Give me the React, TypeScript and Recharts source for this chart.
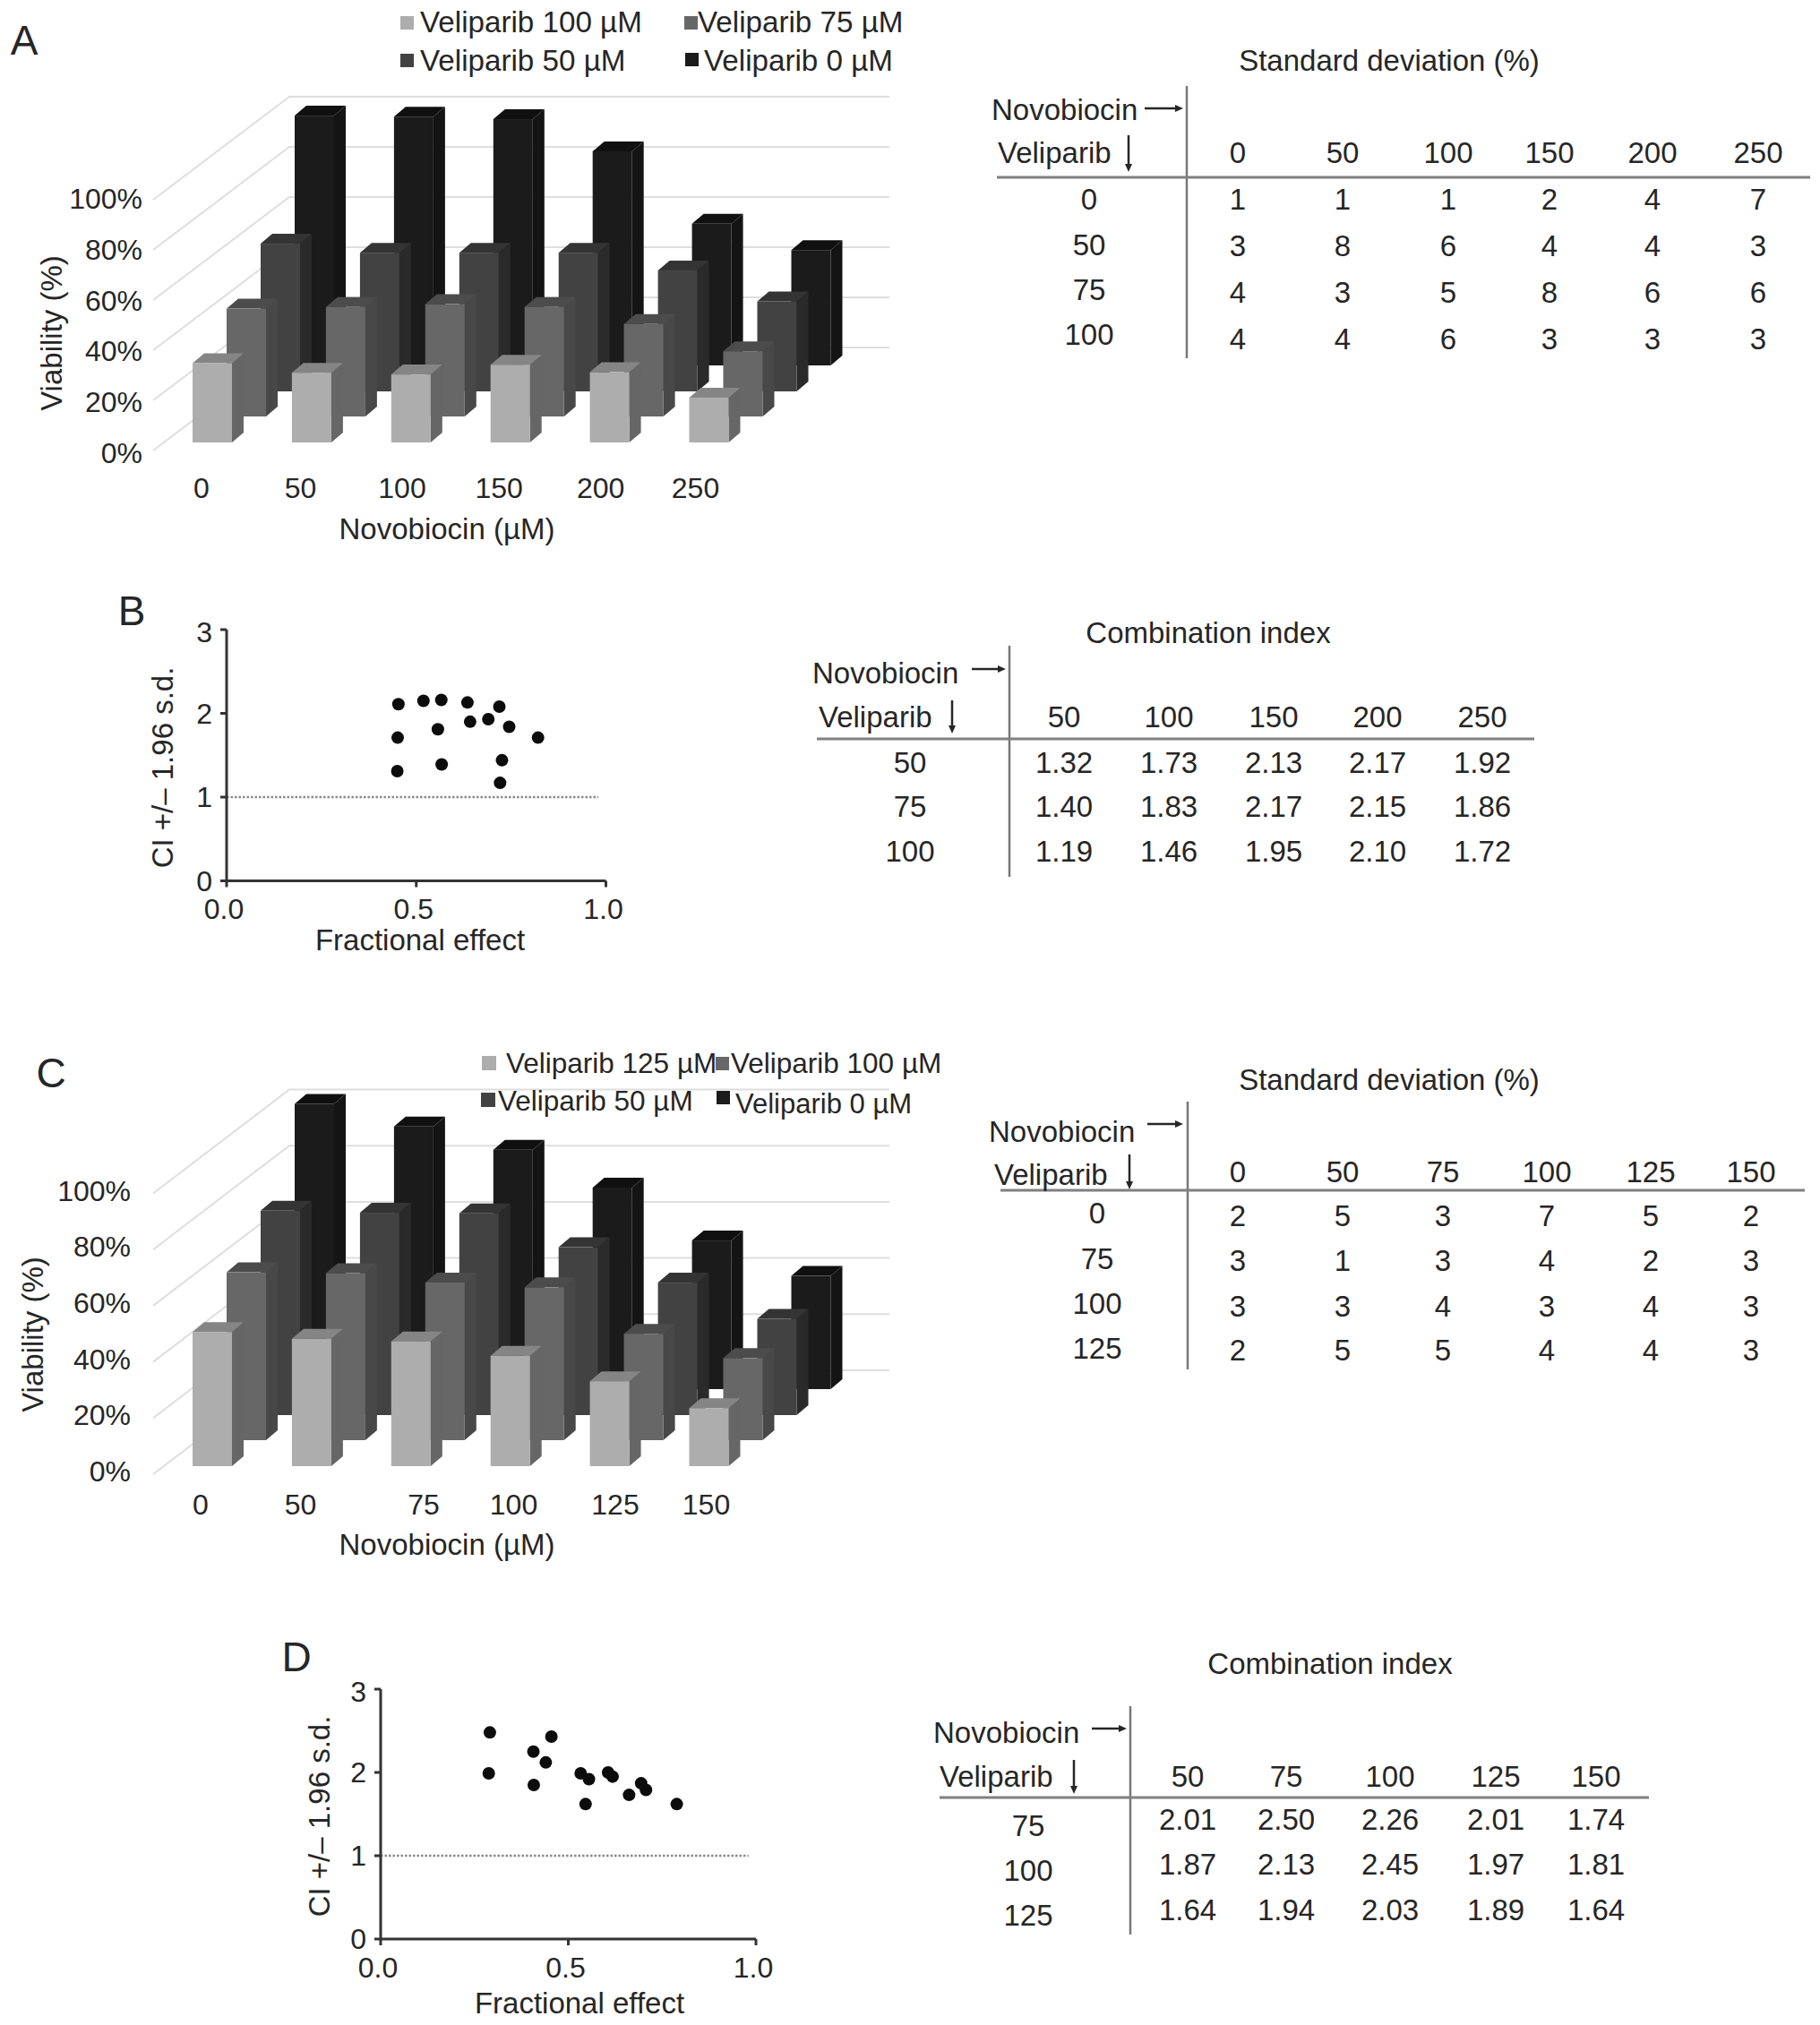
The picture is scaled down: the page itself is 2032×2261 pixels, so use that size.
import { BarChart, Bar, XAxis, YAxis, ScatterChart, Scatter, ReferenceLine } from 'recharts';

const FONT = '"Liberation Sans", Arial, sans-serif';
const INK = '#262626';

// panel A bars
const novobiocinA = ['0', '50', '100', '150', '200', '250'];
const veliparib100A = [31.6, 27.8, 27.1, 31, 28, 17.9];
const veliparib75A = [43, 43.7, 44.8, 43.7, 36.9, 26];
const veliparib50A = [58.9, 55.3, 55.3, 55.3, 48.2, 35.9];
const veliparib0A = [99.6, 99.2, 98.2, 85.4, 56.5, 46];

// panel C bars
const novobiocinC = ['0', '50', '75', '100', '125', '150'];
const veliparib125C = [47.4, 45, 44.1, 39, 30, 20.5];
const veliparib100C = [59.3, 59, 55.7, 54, 37.6, 29];
const veliparib50C = [72.2, 71.5, 71.3, 59.3, 46.8, 34];
const veliparib0C = [100.8, 92.8, 84.6, 71.2, 52.5, 40];

const viabilityTicks = [0, 20, 40, 60, 80, 100];

// panel B and D points
const fractionB = [0.453, 0.519, 0.566, 0.635, 0.719, 0.451, 0.557, 0.642, 0.69, 0.745, 0.821, 0.45, 0.567, 0.726, 0.721];
const ciB = [2.11, 2.15, 2.16, 2.13, 2.08, 1.71, 1.81, 1.9, 1.93, 1.84, 1.71, 1.31, 1.39, 1.44, 1.17];
const fractionD = [0.291, 0.288, 0.407, 0.408, 0.44, 0.455, 0.533, 0.555, 0.546, 0.606, 0.618, 0.662, 0.694, 0.707, 0.789];
const ciD = [2.48, 1.99, 2.25, 1.85, 2.12, 2.43, 1.99, 1.92, 1.62, 2.0, 1.95, 1.73, 1.87, 1.79, 1.62];

// tables
const sdHeadA = ['0', '50', '100', '150', '200', '250'];
const sdRowsA = ['0', '50', '75', '100'];
const sdCellsA = [
  ['1', '1', '1', '2', '4', '7'],
  ['3', '8', '6', '4', '4', '3'],
  ['4', '3', '5', '8', '6', '6'],
  ['4', '4', '6', '3', '3', '3'],
];
const ciHeadB = ['50', '100', '150', '200', '250'];
const ciRowsB = ['50', '75', '100'];
const ciCellsB = [
  ['1.32', '1.73', '2.13', '2.17', '1.92'],
  ['1.40', '1.83', '2.17', '2.15', '1.86'],
  ['1.19', '1.46', '1.95', '2.10', '1.72'],
];
const sdHeadC = ['0', '50', '75', '100', '125', '150'];
const sdRowsC = ['0', '75', '100', '125'];
const sdCellsC = [
  ['2', '5', '3', '7', '5', '2'],
  ['3', '1', '3', '4', '2', '3'],
  ['3', '3', '4', '3', '4', '3'],
  ['2', '5', '5', '4', '4', '3'],
];
const ciHeadD = ['50', '75', '100', '125', '150'];
const ciRowsD = ['75', '100', '125'];
const ciCellsD = [
  ['2.01', '2.50', '2.26', '2.01', '1.74'],
  ['1.87', '2.13', '2.45', '1.97', '1.81'],
  ['1.64', '1.94', '2.03', '1.89', '1.64'],
];

const SHADES = {
  light: { front: '#adadad', top: '#858585', side: '#666666' },
  mid: { front: '#676767', top: '#4c4c4c', side: '#484848' },
  dark: { front: '#424242', top: '#343434', side: '#2a2a2a' },
  black: { front: '#1b1b1b', top: '#101010', side: '#141414' },
};

const Bar3D = (props: any) => {
  const { x, y, width, height, shade } = props;
  const dx = 13;
  const dy = 11;
  return (
    <g>
      <polygon
        points={`${x + width},${y} ${x + width + dx},${y - dy} ${x + width + dx},${y + height - dy} ${x + width},${y + height}`}
        fill={shade.side}
      />
      <polygon
        points={`${x},${y} ${x + dx},${y - dy} ${x + width + dx},${y - dy} ${x + width},${y}`}
        fill={shade.top}
      />
      <rect x={x} y={y} width={width} height={height} fill={shade.front} />
    </g>
  );
};

interface Panel3DProps {
  top: number;
  categories: string[];
  rows: { values: number[]; shade: any }[]; // back to front
  floorY: number; // front plane 0%
  frontBottom: number; // bottom of the front bar row
  pxPer100: number;
  tickRight: number;
  tickDy: number;
  tickDrift: number;
  wallShift: number;
  labelY: number;
  labelShift: number[];
}

function Panel3D(p: Panel3DProps) {
  const step = 110.9;
  const barW = 44;
  const plotLeft = 182.05;
  const plotW = step * 6;
  const axisHeight = 90;
  const base = p.categories.map((name, i) => ({ name, value: p.rows[0].values[i] }));

  const yTick = (t: any) => (
    <g key={t.payload.value}>
      <polyline
        points={`171,${t.y} 323,${t.y - p.wallShift} 993,${t.y - p.wallShift}`}
        fill="none"
        stroke="#dedede"
        strokeWidth={2}
      />
      <text
        x={p.tickRight}
        y={t.y + p.tickDy - t.payload.value * p.tickDrift}
        textAnchor="end"
        dominantBaseline="central"
        fontSize={32}
        fill={INK}
      >
        {t.payload.value}%
      </text>
    </g>
  );
  const xTick = (t: any) => (
    <text
      key={t.index}
      x={t.x + p.labelShift[t.index]}
      y={p.labelY - p.top}
      textAnchor="middle"
      dominantBaseline="central"
      fontSize={32}
      fill={INK}
    >
      {t.payload.value}
    </text>
  );

  return (
    <>
      <div style={{ position: 'absolute', left: 0, top: p.top }}>
        <BarChart
          width={1000}
          height={p.floorY - p.top + axisHeight}
          data={base}
          margin={{ top: p.floorY - p.top - p.pxPer100, right: 1000 - plotLeft - plotW, bottom: 0, left: 0 }}
        >
          <XAxis dataKey="name" interval={0} axisLine={false} tickLine={false} tick={xTick} height={axisHeight} />
          <YAxis width={plotLeft} domain={[0, 100]} ticks={viabilityTicks} axisLine={false} tickLine={false} tick={yTick} />
          <Bar dataKey="value" fill="none" isAnimationActive={false} />
        </BarChart>
      </div>
      {p.rows.map((row, i) => {
        const back = p.rows.length - 1 - i;
        const h = p.pxPer100 * 1.25;
        const bottom = p.frontBottom - back * 28.7;
        const data = p.categories.map((name, j) => ({ name, value: row.values[j] }));
        return (
          <div key={i} style={{ position: 'absolute', left: plotLeft + back * 38, top: bottom - h }}>
            <BarChart width={plotW + 20} height={h + 4} data={data} margin={{ top: 0, right: 20, bottom: 4, left: 0 }}>
              <XAxis dataKey="name" hide />
              <YAxis hide domain={[0, 125]} />
              <Bar
                dataKey="value"
                barSize={barW}
                isAnimationActive={false}
                shape={(b: any) => <Bar3D {...b} shade={row.shade} />}
              />
            </BarChart>
          </div>
        );
      })}
    </>
  );
}

function ScatterPanel({ left, top, width, height, xs, ys }: any) {
  const pts = xs.map((x: number, i: number) => ({ x, y: ys[i] }));
  const axisW = 60;
  const axisH = 60;
  const axis = { stroke: '#333333', strokeWidth: 3 };
  return (
    <div style={{ position: 'absolute', left: left - axisW, top: top - 16 }}>
      <ScatterChart
        width={width + axisW + 40}
        height={height + 16 + axisH}
        margin={{ top: 16, right: 40, bottom: 0, left: 0 }}
      >
        <XAxis
          type="number"
          dataKey="x"
          domain={[0, 1]}
          ticks={[0, 0.5, 1]}
          tickFormatter={(v: number) => v.toFixed(1)}
          axisLine={axis}
          tickLine={axis}
          tickSize={7}
          tickMargin={13}
          height={axisH}
          tick={{ fontSize: 32, fill: INK, dx: -3 }}
        />
        <YAxis
          type="number"
          dataKey="y"
          domain={[0, 3]}
          ticks={[0, 1, 2, 3]}
          axisLine={axis}
          tickLine={axis}
          tickSize={7}
          tickMargin={9}
          width={axisW}
          tick={{ fontSize: 32, fill: INK }}
        />
        <ReferenceLine
          segment={[{ x: 0, y: 1 }, { x: 0.98, y: 1 }]}
          stroke="#8a8a8a"
          strokeWidth={2.5}
          strokeDasharray="2.5 2"
        />
        <Scatter
          data={pts}
          isAnimationActive={false}
          shape={(d: any) => <circle cx={d.cx} cy={d.cy} r={7} fill="#0c0c0c" />}
        />
      </ScatterChart>
    </div>
  );
}

const T = ({ x, y, a = 'middle', size = 33, rot, children }: any) => (
  <text
    x={x}
    y={y}
    textAnchor={a}
    dominantBaseline="central"
    fontSize={size}
    fill={INK}
    transform={rot ? `rotate(${rot} ${x} ${y})` : undefined}
  >
    {children}
  </text>
);

function DataTable(t: any) {
  return (
    <g>
      <T x={t.titleX} y={t.titleY}>{t.title}</T>
      <line x1={t.vx} x2={t.vx} y1={t.vTop} y2={t.vBottom} stroke="#777777" strokeWidth={2.5} />
      <line x1={t.hLeft} x2={t.hRight} y1={t.hy} y2={t.hy} stroke="#808080" strokeWidth={3} />
      <T x={t.novoX} y={t.novoY} a="start">Novobiocin</T>
      <line x1={t.arrowR[0]} x2={t.arrowR[1] - 6} y1={t.arrowRY} y2={t.arrowRY} stroke={INK} strokeWidth={2.5} />
      <polygon
        points={`${t.arrowR[1]},${t.arrowRY} ${t.arrowR[1] - 9},${t.arrowRY - 4} ${t.arrowR[1] - 9},${t.arrowRY + 4}`}
        fill={INK}
      />
      <T x={t.veliX} y={t.veliY} a="start">Veliparib</T>
      <line x1={t.arrowDX} x2={t.arrowDX} y1={t.arrowD[0]} y2={t.arrowD[1] - 6} stroke={INK} strokeWidth={2.5} />
      <polygon
        points={`${t.arrowDX},${t.arrowD[1]} ${t.arrowDX - 4},${t.arrowD[1] - 9} ${t.arrowDX + 4},${t.arrowD[1] - 9}`}
        fill={INK}
      />
      {t.head.map((h: string, i: number) => (
        <T key={i} x={t.colX[i]} y={t.headY}>{h}</T>
      ))}
      {t.rows.map((r: string, i: number) => (
        <T key={i} x={t.rowX} y={t.rowLabelY[i]}>{r}</T>
      ))}
      {t.cells.map((row: string[], i: number) =>
        row.map((c, j) => (
          <T key={`${i}-${j}`} x={t.colX[j]} y={t.rowY[i]}>{c}</T>
        ))
      )}
    </g>
  );
}

const Swatch = ({ x, y, size = 15, fill }: any) => <rect x={x} y={y} width={size} height={size} fill={fill} />;

export default function App() {
  return (
    <div style={{ position: 'absolute', left: 0, top: 0, width: 2032, height: 2261, background: '#fff', fontFamily: FONT, overflow: 'hidden' }}>
      <Panel3D
        top={80}
        categories={novobiocinA}
        rows={[
          { values: veliparib0A, shade: SHADES.black },
          { values: veliparib50A, shade: SHADES.dark },
          { values: veliparib75A, shade: SHADES.mid },
          { values: veliparib100A, shade: SHADES.light },
        ]}
        floorY={503}
        frontBottom={494}
        pxPer100={280}
        tickRight={159}
        tickDy={3}
        tickDrift={0.04}
        wallShift={115}
        labelY={545}
        labelShift={[-12.5, -12.9, -10.3, -13, -10.5, -15.5]}
      />
      <Panel3D
        top={1190}
        categories={novobiocinC}
        rows={[
          { values: veliparib0C, shade: SHADES.black },
          { values: veliparib50C, shade: SHADES.dark },
          { values: veliparib100C, shade: SHADES.mid },
          { values: veliparib125C, shade: SHADES.light },
        ]}
        floorY={1646}
        frontBottom={1637}
        pxPer100={316}
        tickRight={146}
        tickDy={-3}
        tickDrift={0}
        wallShift={116}
        labelY={1680}
        labelShift={[-13.5, -12.9, 13.7, 3.3, 5.9, -3.5]}
      />
      <ScatterPanel left={252.5} top={703} width={423.5} height={280.5} xs={fractionB} ys={ciB} />
      <ScatterPanel left={425} top={1886} width={419} height={279} xs={fractionD} ys={ciD} />

      <svg width={2032} height={2261} style={{ position: 'absolute', left: 0, top: 0, pointerEvents: 'none', fontFamily: FONT }}>
        <T x={27} y={45} size={46}>A</T>
        <T x={147} y={682} size={46}>B</T>
        <T x={57} y={1198} size={46}>C</T>
        <T x={331} y={1850} size={46}>D</T>

        <Swatch x={447} y={18} fill={SHADES.light.front} />
        <T x={469} y={24} a="start" size={33.2}>Veliparib 100 µM</T>
        <Swatch x={764} y={18} fill={SHADES.mid.front} />
        <T x={779} y={24} a="start" size={33.2}>Veliparib 75 µM</T>
        <Swatch x={447} y={60} fill={SHADES.dark.front} />
        <T x={469} y={67} a="start" size={33.2}>Veliparib 50 µM</T>
        <Swatch x={765} y={59} fill={SHADES.black.front} />
        <T x={786} y={67} a="start" size={33.2}>Veliparib 0 µM</T>

        <Swatch x={538} y={1179} size={16} fill={SHADES.light.front} />
        <T x={565} y={1187} a="start" size={31.5}>Veliparib 125 µM</T>
        <Swatch x={799} y={1180} size={15} fill={SHADES.mid.front} />
        <T x={816} y={1187} a="start" size={31.5}>Veliparib 100 µM</T>
        <Swatch x={537} y={1220} size={16} fill={SHADES.dark.front} />
        <T x={556} y={1229} a="start" size={31.5}>Veliparib 50 µM</T>
        <Swatch x={800} y={1218} size={15} fill={SHADES.black.front} />
        <T x={821} y={1232} a="start" size={31}>Veliparib 0 µM</T>

        <T x={57} y={372} rot={-90}>Viability (%)</T>
        <T x={499} y={590}>Novobiocin (µM)</T>
        <T x={36} y={1490} rot={-90}>Viability (%)</T>
        <T x={499} y={1724}>Novobiocin (µM)</T>

        <T x={181} y={857} rot={-90}>CI +/– 1.96 s.d.</T>
        <T x={469} y={1049}>Fractional effect</T>
        <T x={356} y={2028} rot={-90}>CI +/– 1.96 s.d.</T>
        <T x={647} y={2236}>Fractional effect</T>

        <DataTable
          title="Standard deviation (%)" titleX={1551} titleY={67}
          vx={1325} vTop={96} vBottom={400} hy={198} hLeft={1113} hRight={2021}
          novoX={1107} novoY={122} arrowR={[1278, 1321]} arrowRY={121}
          veliX={1114} veliY={170} arrowDX={1260} arrowD={[151, 192]}
          head={sdHeadA} colX={[1382, 1499, 1617, 1730, 1845, 1963]} headY={170}
          rows={sdRowsA} rowX={1216} rowLabelY={[222, 273, 323, 373]}
          cells={sdCellsA} rowY={[222, 274, 326, 378]}
        />
        <DataTable
          title="Combination index" titleX={1349} titleY={706}
          vx={1127} vTop={721} vBottom={979} hy={825} hLeft={912} hRight={1713}
          novoX={907} novoY={751} arrowR={[1085, 1123]} arrowRY={747}
          veliX={914} veliY={800} arrowDX={1063} arrowD={[782, 819]}
          head={ciHeadB} colX={[1188, 1305, 1422, 1538, 1655]} headY={800}
          rows={ciRowsB} rowX={1016} rowLabelY={[851, 900, 950]}
          cells={ciCellsB} rowY={[851, 900, 950]}
        />
        <DataTable
          title="Standard deviation (%)" titleX={1551} titleY={1205}
          vx={1326} vTop={1230} vBottom={1529} hy={1329} hLeft={1117} hRight={2015}
          novoX={1104} novoY={1263} arrowR={[1281, 1321]} arrowRY={1255}
          veliX={1110} veliY={1311} arrowDX={1261} arrowD={[1289, 1328]}
          head={sdHeadC} colX={[1382, 1499, 1611, 1727, 1843, 1955]} headY={1308}
          rows={sdRowsC} rowX={1225} rowLabelY={[1354, 1405, 1455, 1505]}
          cells={sdCellsC} rowY={[1357, 1407, 1458, 1507]}
        />
        <DataTable
          title="Combination index" titleX={1485} titleY={1857}
          vx={1262} vTop={1905} vBottom={2160} hy={2007} hLeft={1049} hRight={1841}
          novoX={1042} novoY={1934} arrowR={[1219, 1258]} arrowRY={1930}
          veliX={1049} veliY={1983} arrowDX={1199} arrowD={[1965, 2003]}
          head={ciHeadD} colX={[1326, 1436, 1552, 1670, 1782]} headY={1983}
          rows={ciRowsD} rowX={1148} rowLabelY={[2038, 2088, 2138]}
          cells={ciCellsD} rowY={[2031, 2081, 2132]}
        />
      </svg>
    </div>
  );
}
